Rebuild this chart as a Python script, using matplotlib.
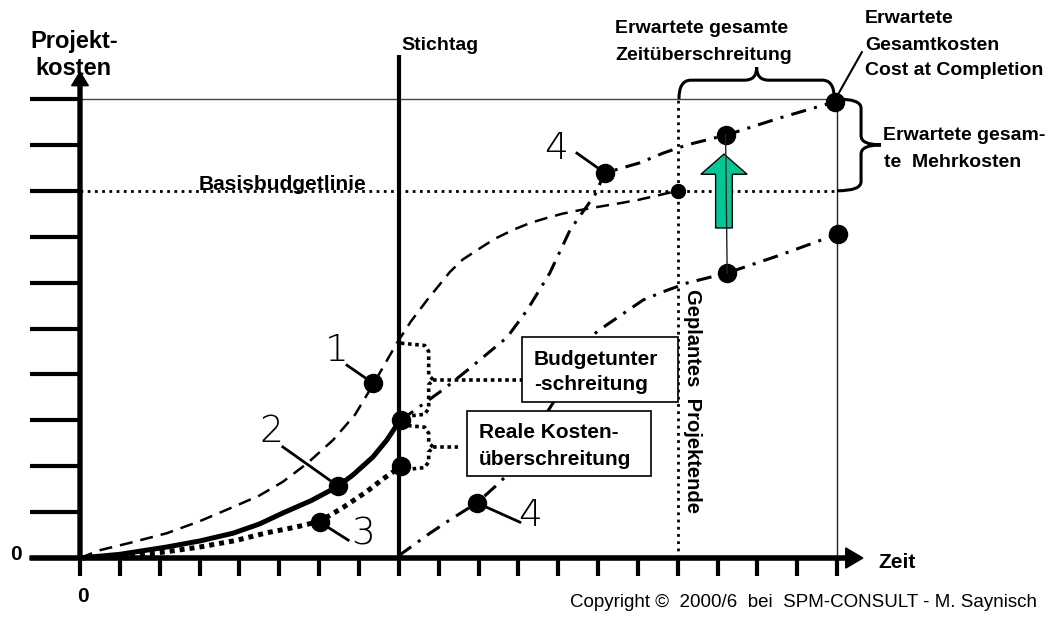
import numpy as np
import matplotlib.pyplot as plt
from matplotlib.patches import Rectangle, FancyArrow, PathPatch
from matplotlib.path import Path

plt.rcParams['font.family'] = ['Liberation Sans', 'DejaVu Sans']

# %% data (time in periods, cost in budget units)
t_ticks = np.arange(0, 20)
c_ticks = np.arange(1, 11)
stichtag = 8
plan_end = 15
completion = 19
basis_budget = 8
cac_level = 10

# 1: planned costs (dashed)
plan_t = [0, 0.5, 1.3, 2.18, 3.0, 3.84, 4.5, 5.09, 5.7, 6.35, 6.9, 7.35, 7.95, 8.3, 8.71, 9.28, 9.6,
          10.04, 10.4, 10.87, 11.3, 11.72, 12.1, 12.55, 13.0, 13.55, 14.0, 14.55, 15]
plan_c = [0, 0.17, 0.34, 0.54, 0.8, 1.11, 1.36, 1.66, 2.06, 2.57, 3.12, 3.77, 4.68, 5.15, 5.62, 6.23, 6.5,
          6.75, 6.95, 7.15, 7.3, 7.41, 7.5, 7.58, 7.65, 7.73, 7.8, 7.91, 8.0]
# 2: actual costs (solid)
act_t = [0, 1.0, 2.18, 3.0, 3.84, 4.5, 5.09, 5.8, 6.45, 6.85, 7.35, 7.7, 8.03]
act_c = [0, 0.08, 0.24, 0.37, 0.54, 0.74, 0.98, 1.25, 1.55, 1.81, 2.2, 2.57, 3.0]
# 3: earned value (dotted)
ev_t = [0, 1.33, 2.2, 3.01, 3.9, 4.69, 5.4, 6.02, 6.6, 7.2, 7.6, 8.03]
ev_c = [0, 0.05, 0.14, 0.24, 0.38, 0.55, 0.67, 0.8, 1.1, 1.45, 1.72, 1.98]
# 4: forecast costs (dash-dot, upper)
fc_t = [8.05, 9.16, 9.79, 10.72, 11.22, 11.79, 12.30, 12.92, 13.17, 14.05, 14.63, 15.23, 16.24, 17.57, 18.95]
fc_c = [3.0, 3.70, 4.14, 4.81, 5.40, 6.21, 7.15, 7.91, 8.39, 8.61, 8.82, 9.0, 9.22, 9.59, 9.94]
# 4: forecast earned value (dash-dot, lower)
fe_t = [8.0, 8.78, 9.28, 9.96, 10.46, 10.79, 11.87, 12.87, 13.22, 14.13, 14.63, 15.23, 16.24, 17.57, 19.02]
fe_c = [0.05, 0.54, 0.83, 1.20, 1.59, 1.87, 3.38, 4.86, 5.08, 5.62, 5.80, 5.99, 6.21, 6.6, 7.06]

mk_t = [7.35, 6.47, 6.02, 8.05, 8.05, 9.96, 13.17, 16.2, 16.24, 18.95, 19.02]
mk_c = [3.81, 1.57, 0.78, 3.0, 2.0, 1.2, 8.39, 9.22, 6.21, 9.94, 7.06]

# label, text pos, leader start, marker
num_labels = [("1", (6.45, 4.51), (6.70, 4.20), (7.35, 3.81)),
              ("2", (4.79, 2.75), (5.09, 2.42), (6.47, 1.57)),
              ("3", (7.10, 0.52), (6.73, 0.39), (6.02, 0.78)),
              ("4", (11.94, 8.93), (12.47, 8.82), (13.17, 8.39)),
              ("4", (11.29, 0.92), (11.04, 0.78), (9.96, 1.2))]


def hbrace(ax, x0, x1, y, h, tip, r):
    xm = (x0 + x1) / 2
    verts = [(x0, y), (x0, y + h), (x0 + r, y + h), (xm - r, y + h), (xm, y + h), (xm, y + h + tip),
             (xm, y + h), (xm + r, y + h), (x1 - r, y + h), (x1, y + h), (x1, y)]
    codes = [Path.MOVETO, Path.CURVE3, Path.CURVE3, Path.LINETO, Path.CURVE3, Path.CURVE3,
             Path.CURVE3, Path.CURVE3, Path.LINETO, Path.CURVE3, Path.CURVE3]
    ax.add_patch(PathPatch(Path(verts, codes), fill=False, lw=2.2, ec='black', zorder=4))


def vbrace(ax, y0, y1, x, w, tip, r):
    ym = (y0 + y1) / 2
    verts = [(x, y1), (x + w, y1), (x + w, y1 - r), (x + w, ym + r), (x + w, ym), (x + w + tip, ym),
             (x + w, ym), (x + w, ym - r), (x + w, y0 + r), (x + w, y0), (x, y0)]
    codes = [Path.MOVETO, Path.CURVE3, Path.CURVE3, Path.LINETO, Path.CURVE3, Path.CURVE3,
             Path.CURVE3, Path.CURVE3, Path.LINETO, Path.CURVE3, Path.CURVE3]
    ax.add_patch(PathPatch(Path(verts, codes), fill=False, lw=2.2, ec='black', zorder=4))


def dotted_bracket(ax, top, bot, lead_to):
    xb = stichtag + 0.75
    mid = (top + bot) / 2
    xs = [stichtag + 0.05, xb - 0.1, xb, xb, xb + 0.12, xb, xb, xb - 0.1, stichtag + 0.1]
    ys = [top, top - 0.05, top - 0.18, mid + 0.1, mid, mid - 0.1, bot + 0.18, bot + 0.05, bot]
    ax.plot(xs, ys, color='black', lw=2.6, ls=(0, (1, 1)), zorder=3)
    ax.plot([xb + 0.12, lead_to], [mid, mid], color='black', lw=2.6, ls=(0, (1, 1)), zorder=3)


fig = plt.figure(figsize=(10.63, 6.21), dpi=100)
ax = fig.add_axes([0, 0, 1, 1])
ax.set_xlim(-80 / 39.85, (1063 - 80) / 39.85)
ax.set_ylim((558 - 621) / 45.9, 558 / 45.9)
ax.axis('off')

# %% axes and guide lines
ax.add_patch(FancyArrow(0, 0, 0, 10.59, width=0.1, head_width=0.42, head_length=0.3,
                        length_includes_head=True, color='black', zorder=5))
ax.add_patch(FancyArrow(-1.255, 0, 20.9, 0, width=0.09, head_width=0.44, head_length=0.43,
                        length_includes_head=True, color='black', zorder=5))
for c in c_ticks:
    ax.plot([-1.255, 0], [c, c], color='black', lw=3, solid_capstyle='butt', zorder=5)
for t in t_ticks:
    ax.plot([t, t], [0, -0.39], color='black', lw=3, solid_capstyle='butt', zorder=5)

ax.plot([stichtag, stichtag], [0, 10.96], color='black', lw=3, solid_capstyle='butt', zorder=5)
ax.plot([0, completion], [cac_level, cac_level], color='#444444', lw=1, zorder=2)
ax.plot([completion, completion], [0, cac_level], color='#222222', lw=1, zorder=2)
ax.plot([0, completion], [basis_budget, basis_budget], color='black', lw=2, ls=(0, (1, 1.6)), zorder=2)
ax.plot([plan_end, plan_end], [0, cac_level], color='black', lw=2, ls=(0, (1, 1.6)), zorder=2)

# %% curves
ax.plot(plan_t, plan_c, color='black', lw=1.8, ls=(0, (5.2, 3.2)), zorder=3)
ax.plot(act_t, act_c, color='black', lw=3.6, solid_capstyle='round', solid_joinstyle='round', zorder=3)
ax.plot(ev_t, ev_c, color='black', lw=3.6, ls=(0, (1, 1)), zorder=3)
ax.plot(fc_t, fc_c, color='black', lw=2.2, ls=(0, (5, 2.7, 1, 2.7)), zorder=3)
ax.plot(fe_t, fe_c, color='black', lw=2.2, ls=(0, (5, 2.7, 1, 2.7)), zorder=3)

ax.plot(mk_t, mk_c, 'o', color='black', ms=13, zorder=6)
ax.plot([plan_end], [basis_budget], 'o', color='black', ms=10, zorder=6)

for lab, pos, lead, mk in num_labels:
    ax.plot([lead[0], mk[0]], [lead[1], mk[1]], color='black', lw=2, zorder=6)
    ax.text(pos[0], pos[1], lab, fontsize=27, family='DejaVu Sans', fontweight='light',
            ha='center', va='center', zorder=6)

# %% forecast arrow and connector
ax.add_patch(FancyArrow(16.16, 7.19, 0, 1.61, width=0.42, head_width=1.16, head_length=0.44,
                        length_includes_head=True, fc='#00C896', ec='black', lw=1, zorder=6))
ax.plot([16.2, 16.24], [9.22, 6.21], color='#222222', lw=1, zorder=7)

# %% braces and brackets
hbrace(ax, 15.03, 18.93, cac_level, 0.41, 0.28, 0.3)
vbrace(ax, basis_budget, cac_level, completion, 0.6, 0.5, 0.2)
ax.plot([18.97, 19.62], [10.02, 11.02], color='black', lw=1.5, zorder=4)

dotted_bracket(ax, 4.68, 3.08, 11.09)
dotted_bracket(ax, 2.9, 1.92, 9.48)

# %% boxes
ax.add_patch(Rectangle((11.09, 3.40), 3.91, 1.41, fc='white', ec='black', lw=1.2, zorder=5))
ax.add_patch(Rectangle((9.71, 1.79), 4.62, 1.41, fc='white', ec='black', lw=1.2, zorder=5))
bold = dict(fontweight='bold', zorder=7)
ax.text(11.39, 4.2, "Budgetunter", fontsize=15, va='baseline', **bold)
ax.text(11.39, 3.66, "-schreitung", fontsize=15, va='baseline', **bold)
ax.text(10.01, 2.61, "Reale Kosten-", fontsize=15, va='baseline', **bold)
ax.text(10.01, 2.03, "überschreitung", fontsize=15, va='baseline', **bold)

# %% texts
ax.text(-1.255, 11.11, "Projekt-", fontsize=17, va='baseline', **bold)
ax.text(-1.13, 10.52, "kosten", fontsize=17, va='baseline', **bold)
ax.text(8.06, 11.07, "Stichtag", fontsize=14, va='baseline', **bold)
ax.text(13.43, 11.44, "Erwartete gesamte", fontsize=14, va='baseline', **bold)
ax.text(13.43, 10.85, "Zeitüberschreitung", fontsize=14, va='baseline', **bold)
ax.text(19.70, 11.66, "Erwartete", fontsize=14, va='baseline', **bold)
ax.text(19.70, 11.07, "Gesamtkosten", fontsize=14, va='baseline', **bold)
ax.text(19.70, 10.52, "Cost at Completion", fontsize=14, va='baseline', **bold)
ax.text(20.15, 9.11, "Erwartete gesam-", fontsize=14, va='baseline', **bold)
ax.text(20.18, 8.52, "te  Mehrkosten", fontsize=14, va='baseline', **bold)
ax.text(5.07, 8.02, "Basisbudgetlinie", fontsize=15, ha='center', va='baseline', **bold)
ax.text(15.38, 3.42, "Geplantes  Projektende", fontsize=14.5, rotation=270,
        ha='center', va='center', **bold)
ax.text(20.03, -0.09, "Zeit", fontsize=15, va='center', **bold)
ax.text(-1.61, 0.07, "0", fontsize=15, ha='center', va='center', **bold)
ax.text(0.08, -0.83, "0", fontsize=15, ha='center', va='center', **bold)
ax.text(12.3, -1.07, "Copyright \u00a9  2000/6  bei  SPM-CONSULT - M. Saynisch", fontsize=13.5,
        va='baseline', zorder=7)

fig.savefig("out.png", dpi=100)
